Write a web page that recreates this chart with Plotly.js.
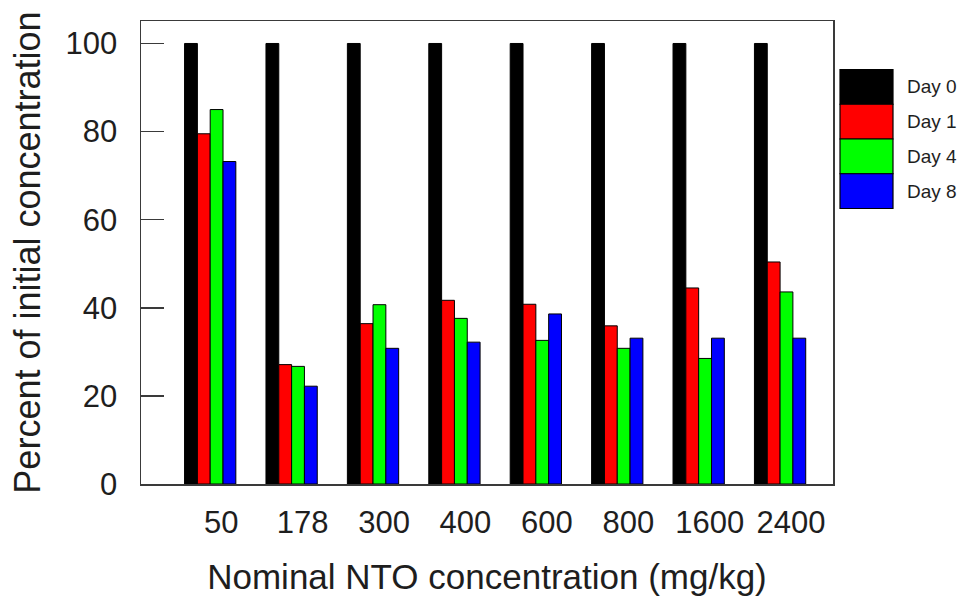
<!DOCTYPE html>
<html>
<head>
<meta charset="utf-8">
<script src="https://cdn.plot.ly/plotly-3.0.1.min.js"></script>
<style>
  html, body { margin: 0; padding: 0; background: #fff; }
  #chart { width: 968px; height: 600px; }
</style>
</head>
<body>
<div id="chart"></div>
<script>
// Nominal NTO concentrations (mg/kg), used as categories
const concentrations = ['50', '178', '300', '400', '600', '800', '1600', '2400'];

// Percent of initial concentration remaining on each sampling day
const day0 = [100, 100, 100, 100, 100, 100, 100, 100];
const day1 = [79.5, 27.1, 36.4, 41.7, 40.8, 35.9, 44.5, 50.4];
const day4 = [85.0, 26.7, 40.7, 37.6, 32.6, 30.8, 28.5, 43.6];
const day8 = [73.2, 22.2, 30.8, 32.2, 38.6, 33.1, 33.1, 33.1];

const seriesNames = ['Day 0', 'Day 1', 'Day 4', 'Day 8'];
const seriesValues = [day0, day1, day4, day8];
const seriesColors = ['#000000', '#ff0000', '#00ff00', '#0000ff'];

const yTicks = [0, 20, 40, 60, 80, 100];

// Plot area in pixels
const W = 968, H = 600;
const M = { l: 141, r: 135, t: 21, b: 116 };
const plotW = W - M.l - M.r;
const plotH = H - M.t - M.b;
const px2x = px => (px - M.l) / plotW;
const px2y = py => (H - M.b - py) / plotH;

const FONT = 'Arial, "Liberation Sans", sans-serif';
const TEXT = '#1e1e1e';
const FRAME = '#3a3a3a';

const traces = seriesNames.map((name, i) => ({
  type: 'bar',
  name: name,
  x: concentrations,
  y: seriesValues[i],
  marker: { color: seriesColors[i], line: { color: '#000', width: 1 } },
  hoverinfo: 'x+y+name'
}));

// Legend built from shapes and text next to the plot frame
const legendShapes = [];
const legendLabels = [];
const swatch = { x0: 840, x1: 893, top: 69.5, h: 34.75 };
seriesNames.forEach((name, i) => {
  const y0 = swatch.top + i * swatch.h;
  const y1 = y0 + swatch.h;
  legendShapes.push({
    type: 'rect', xref: 'paper', yref: 'paper',
    x0: px2x(swatch.x0), x1: px2x(swatch.x1),
    y0: px2y(y1), y1: px2y(y0),
    fillcolor: seriesColors[i],
    line: { color: '#000', width: 1.2 }
  });
  legendLabels.push({
    xref: 'paper', yref: 'paper',
    x: px2x(905), y: px2y((y0 + y1) / 2),
    xanchor: 'left', yanchor: 'middle',
    text: name, showarrow: false,
    font: { family: FONT, size: 19, color: TEXT }
  });
});

const layout = {
  width: W, height: H,
  margin: M,
  paper_bgcolor: '#fff',
  plot_bgcolor: '#fff',
  showlegend: false,
  barmode: 'group',
  bargap: 0.37,
  bargroupgap: 0,
  font: { family: FONT, color: TEXT },
  xaxis: {
    type: 'category',
    range: [-0.85, 7.65],
    showgrid: false,
    zeroline: false,
    showline: true, linecolor: FRAME, linewidth: 1.5,
    mirror: true,
    ticks: '',
    tickfont: { family: FONT, size: 31, color: TEXT },
    ticklabelshift: 11,
    ticklabelstandoff: 10,
    title: {
      text: 'Nominal NTO concentration (mg/kg)',
      font: { family: FONT, size: 35, color: TEXT },
      standoff: 26
    },
    automargin: false
  },
  yaxis: {
    range: [0, 105.1],
    tickvals: yTicks,
    ticktext: yTicks.map(String),
    showgrid: false,
    zeroline: false,
    showline: true, linecolor: FRAME, linewidth: 1.5,
    mirror: true,
    ticks: 'inside', ticklen: 23, tickwidth: 1.5, tickcolor: FRAME,
    tickfont: { family: FONT, size: 31, color: TEXT },
    ticklabelstandoff: 16,
    title: {
      text: 'Percent of initial concentration',
      font: { family: FONT, size: 36, color: TEXT },
      standoff: 14
    },
    automargin: false
  },
  shapes: legendShapes,
  annotations: legendLabels
};

Plotly.newPlot('chart', traces, layout, { displayModeBar: false, staticPlot: true });
</script>
</body>
</html>
